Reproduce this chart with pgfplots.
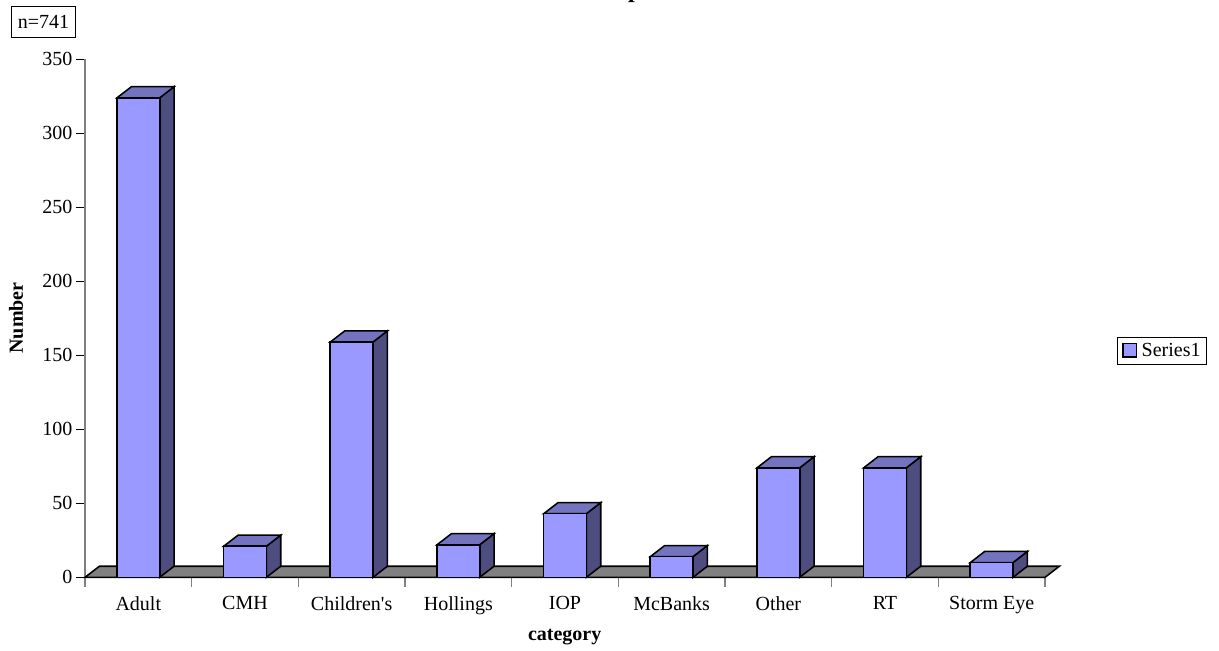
\documentclass[border=0pt]{standalone}
\usepackage{pgfplots}
\pgfplotsset{compat=1.18}
\usepackage{fontspec}
\setmainfont{Liberation Serif}[Ligatures=TeXOff]
\definecolor{barfront}{HTML}{9999FF}
\definecolor{bartop}{HTML}{7373BF}
\definecolor{barside}{HTML}{4D4D80}
\definecolor{floorgrey}{HTML}{808080}
% side and top faces of a 3D bar: centre, value
\newcommand{\barfaces}[2]{%
  \pgfmathsetmacro\xl{#1-0.2}\pgfmathsetmacro\xr{#1+0.2}%
  \pgfmathsetmacro\xlb{#1-0.2+0.135}\pgfmathsetmacro\xrb{#1+0.2+0.135}%
  \pgfmathsetmacro\yb{#2+7.5}%
  \addplot[draw=black,line width=1.15pt,fill=barside,forget plot] coordinates {(\xr,0) (\xrb,7.5) (\xrb,\yb) (\xr,#2)} -- cycle;
  \addplot[draw=black,line width=1.15pt,fill=bartop,forget plot] coordinates {(\xl,#2) (\xr,#2) (\xrb,\yb) (\xlb,\yb)} -- cycle;
}
\begin{document}
\begin{tikzpicture}[x=1pt,y=1pt]
\useasboundingbox (0,0) rectangle (914.25,487.5);
\begin{axis}[
  at={(63.75pt,54.5pt)},anchor=south west,
  scale only axis,width=720pt,height=388.5pt,
  xmin=-0.5,xmax=8.5,ymin=0,ymax=350,
  axis lines=left,
  axis line style={-,draw=floorgrey,line width=1.1pt},
  clip=false,
  font=\fontsize{15}{18}\selectfont,
  /pgf/number format/assume math mode=true,
  xtick={0,1,2,3,4,5,6,7,8},
  xticklabels={Adult,CMH,Children's,Hollings,IOP,McBanks,Other,RT,Storm Eye},
  minor xtick={-0.5,0.5,1.5,2.5,3.5,4.5,5.5,6.5,7.5,8.5},
  ytick={0,50,100,150,200,250,300,350},
  major x tick style={draw=none},
  minor tick length=7pt,
  minor x tick style={draw=floorgrey,line width=0.8pt},
  tick align=outside,
  major tick length=7pt,
  y tick style={draw=black,line width=0.8pt},
  x tick label style={yshift=-4pt},
  y tick label style={xshift=1pt},
  bar width=32.25pt,
  legend style={at={(1.075,0.437)},anchor=west,draw=black,fill=white,
    line width=0.7pt,
    font=\fontsize{15}{18}\selectfont,inner xsep=2.5pt,inner ysep=2.5pt,
    /tikz/every even column/.style={column sep=2pt}},
  legend cell align=left,
]
% floor
\addplot[draw=black,line width=1.15pt,fill=floorgrey,forget plot] coordinates {(-0.5,0) (8.5,0) (8.635,7.5) (-0.365,7.5)} -- cycle;
\barfaces{0}{324}
\barfaces{1}{21}
\barfaces{2}{159}
\barfaces{3}{22}
\barfaces{4}{43}
\barfaces{5}{14}
\barfaces{6}{74}
\barfaces{7}{74}
\barfaces{8}{10}
\addplot[ybar,draw=black,line width=1.15pt,fill=barfront,
  legend image code/.code={\draw[draw=black,line width=1pt,fill=barfront] (0pt,-4.5pt) rectangle (10pt,5.5pt);\path (-1pt,0) (11.5pt,0);}]
  coordinates {(0,324) (1,21) (2,159) (3,22) (4,43) (5,14) (6,74) (7,74) (8,10)};
\addlegendentry{Series1}
\end{axis}
\node[font=\fontsize{15}{18}\selectfont\bfseries,rotate=90] at (12pt,249pt) {Number};
\node[font=\fontsize{15}{18}\selectfont\bfseries] at (423.5pt,10pt) {category};
\node[draw=black,line width=0.7pt,fill=white,font=\fontsize{15}{18}\selectfont,minimum width=48.5pt,minimum height=23pt,inner sep=0pt] at (32.6pt,471pt) {n=741};
\node[font=\fontsize{18}{20}\selectfont\bfseries,anchor=base,inner sep=0pt] at (476pt,489.5pt) {p};
\end{tikzpicture}
\end{document}
